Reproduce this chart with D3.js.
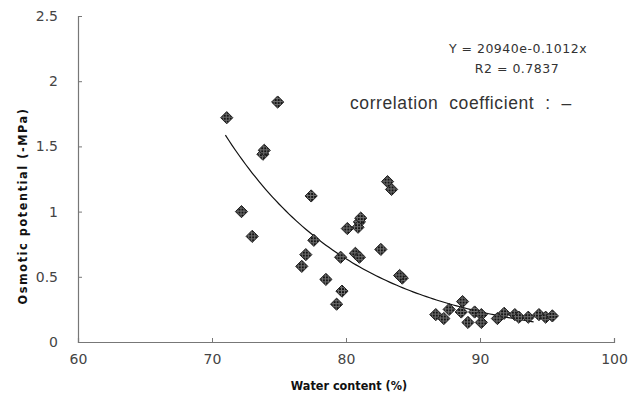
<!DOCTYPE html>
<html>
<head>
<meta charset="utf-8">
<script src="https://cdn.jsdelivr.net/npm/d3@7"></script>
<style>
  body { margin: 0; background: #fff; }
  svg { display: block; font-family: Tahoma, "DejaVu Sans", sans-serif; }
</style>
</head>
<body>
<div id="chart"></div>
<script>
"use strict";

// water content (%) and osmotic potential (-MPa)
const waterContent = [
    71.1, 74.9, 73.8, 73.9, 77.4, 83.1, 83.4,
    72.2, 73.0, 77.6, 77.0, 76.7, 80.1, 81.0, 81.1, 80.9,
    79.6, 80.7, 81.0, 82.6, 78.5, 79.7, 79.3, 84.2, 84.0,
    86.7, 87.3, 87.7, 88.7, 88.6, 89.1, 89.6, 90.1, 90.1,
    91.3, 91.8, 92.6, 92.9, 93.6, 94.4, 94.9, 95.4
];
const osmoticPotential = [
    1.72, 1.84, 1.44, 1.47, 1.12, 1.23, 1.17,
    1.00, 0.81, 0.78, 0.67, 0.58, 0.87, 0.92, 0.95, 0.88,
    0.65, 0.68, 0.65, 0.71, 0.48, 0.39, 0.29, 0.49, 0.51,
    0.21, 0.18, 0.25, 0.31, 0.23, 0.15, 0.23, 0.21, 0.15,
    0.18, 0.22, 0.21, 0.19, 0.19, 0.21, 0.19, 0.20
];
const xTicks = [60, 70, 80, 90, 100];
const yTicks = [0, 0.5, 1, 1.5, 2, 2.5];
const fitA = 2094.0;
const fitB = -0.1012;
const fitRange = [71, 94];
const eqLabel = "Y = 20940e-0.1012x";
const r2Label = "R2 = 0.7837";
const noteLabel = "correlation  coefficient  :  \u2013";

const width = 641, height = 401;
const margin = { left: 78, right: 27, top: 16, bottom: 59 };

const svg = d3.select("#chart").append("svg")
    .attr("width", width)
    .attr("height", height);

// hatched fill for the diamond markers
const pat = svg.append("defs").append("pattern")
    .attr("id", "hatch")
    .attr("patternUnits", "userSpaceOnUse")
    .attr("width", 3).attr("height", 3);
pat.append("rect").attr("width", 3).attr("height", 3).attr("fill", "#151515");
pat.append("rect").attr("x", 2).attr("width", 1).attr("height", 3).attr("fill", "#6e6e6e");
pat.append("rect").attr("y", 2).attr("width", 3).attr("height", 1).attr("fill", "#6e6e6e");

const x = d3.scaleLinear().domain([60, 100]).range([margin.left, width - margin.right]);
const y = d3.scaleLinear().domain([0, 2.5]).range([height - margin.bottom, margin.top]);

// axes
const xAxis = svg.append("g")
    .attr("transform", "translate(0," + y(0) + ")")
    .call(d3.axisBottom(x).tickValues(xTicks).tickSize(-4).tickPadding(12).tickFormat(d3.format("d")));
const yAxis = svg.append("g")
    .attr("transform", "translate(" + x(60) + ",0)")
    .call(d3.axisLeft(y).tickValues(yTicks).tickSize(-4).tickPadding(20).tickFormat(d => d));

[xAxis, yAxis].forEach(function (g) {
    g.select(".domain").attr("stroke", "#777").attr("stroke-width", 1.2);
    g.selectAll(".tick line").attr("stroke", "#777");
    g.selectAll(".tick text")
        .attr("fill", "#444")
        .style("font-size", "14px")
        .style("font-family", "Tahoma, 'DejaVu Sans', sans-serif");
});
xAxis.selectAll(".tick").filter(d => d === 60).select("line").remove();
yAxis.selectAll(".tick").filter(d => d === 0).select("line").remove();

// fitted exponential curve
const fitXs = d3.range(fitRange[0], fitRange[1] + 0.01, 0.25);
svg.append("path")
    .datum(fitXs)
    .attr("fill", "none")
    .attr("stroke", "#111")
    .attr("stroke-width", 1.2)
    .attr("d", d3.line()
        .x(d => x(d))
        .y(d => y(fitA * Math.exp(fitB * d))));

// data points
const points = waterContent.map((w, i) => ({ w: w, p: osmoticPotential[i] }));
svg.append("g").selectAll("path")
    .data(points)
    .enter()
    .append("path")
    .attr("transform", d => "translate(" + x(d.w) + "," + y(d.p) + ")")
    .attr("d", d3.symbol().type(d3.symbolDiamond2).size(95))
    .attr("fill", "url(#hatch)")
    .attr("stroke", "#222")
    .attr("stroke-width", 1);

// axis titles
svg.append("text")
    .attr("x", 349)
    .attr("y", 390)
    .attr("text-anchor", "middle")
    .attr("fill", "#111")
    .style("font-family", "'DejaVu Sans Condensed', 'DejaVu Sans', sans-serif")
    .style("font-size", "12.5px")
    .style("font-weight", "bold")
    .text("Water content (%)");

svg.append("text")
    .attr("transform", "translate(27," + 206 + ") rotate(-90)")
    .attr("text-anchor", "middle")
    .attr("fill", "#111")
    .style("font-family", "'DejaVu Sans Condensed', 'DejaVu Sans', sans-serif")
    .style("font-size", "12.5px")
    .style("font-weight", "bold")
    .style("letter-spacing", "1.6px")
    .text("Osmotic potential (-MPa)");

// annotations
svg.append("text")
    .attr("x", 518).attr("y", 53)
    .attr("text-anchor", "middle")
    .attr("fill", "#333")
    .style("font-size", "12.5px")
    .style("letter-spacing", "0.5px")
    .text(eqLabel);
svg.append("text")
    .attr("x", 517).attr("y", 73)
    .attr("text-anchor", "middle")
    .attr("fill", "#333")
    .style("font-size", "12.5px")
    .style("letter-spacing", "0.5px")
    .text(r2Label);
svg.append("text")
    .attr("x", 350).attr("y", 109)
    .attr("fill", "#333")
    .style("font-size", "17.5px")
    .style("letter-spacing", "0.6px")
    .style("font-family", "Arial, 'Liberation Sans', sans-serif")
    .style("white-space", "pre")
    .attr("xml:space", "preserve")
    .text(noteLabel);
</script>
</body>
</html>
